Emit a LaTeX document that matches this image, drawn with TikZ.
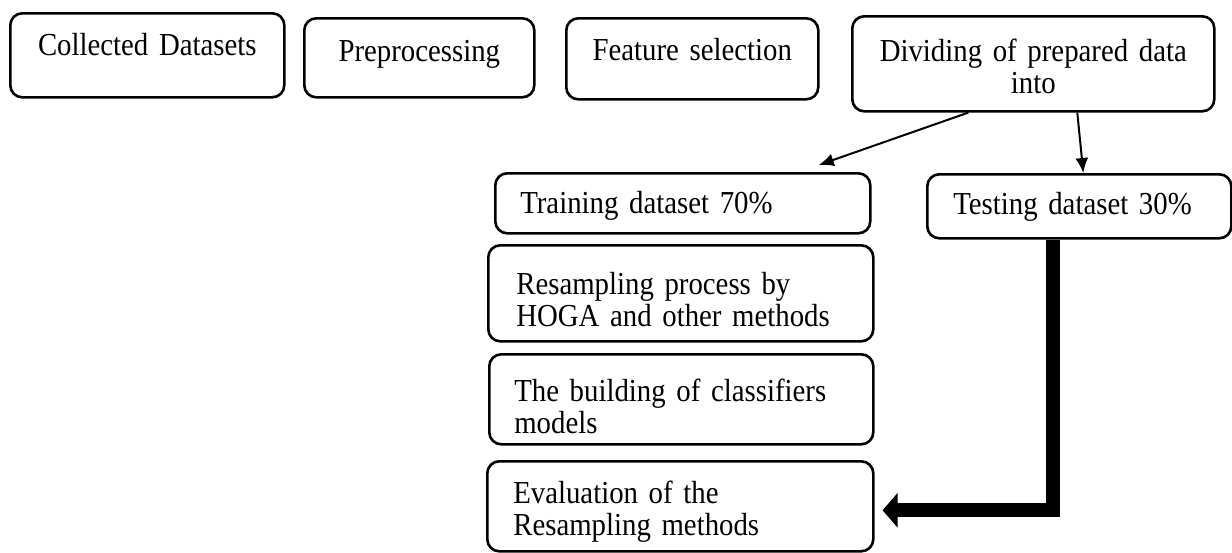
\documentclass[tikz,border=0pt]{standalone}
\usepackage{fontspec}
\setmainfont{Liberation Serif}[FakeStretch=0.9]
\usetikzlibrary{arrows.meta}

\tikzset{
	stage/.style={draw, rounded corners=6pt, line width=1.3pt, anchor=north west, inner ysep=0pt,
		font=\fontsize{16pt}{16pt}\selectfont},
	midtext/.style={align=center, inner xsep=0pt},
	lefttext/.style={align=left, inner xsep=#1},
	link/.style={-{Latex[length=7.5pt,width=6.5pt]}, line width=1pt},
	bigarrow/.style={-{Triangle[length=7.5pt,width=17pt]}, line width=7pt, line join=miter},
}

\begin{document}
\begin{tikzpicture}[x=0.5pt, y=-0.5pt]
		\useasboundingbox (0,0) rectangle (1232,552);
		
		% top row
		\node[stage, midtext, text width=137pt, text height=21pt, text depth=21pt] (collect) at (9,12) {Collected Datasets};
		\node[stage, midtext, text width=115pt, text height=21.5pt, text depth=18pt] (prep) at (303,17) {Preprocessing};
		\node[stage, midtext, text width=126pt, text height=21pt, text depth=19.5pt] (feat) at (565,17) {Feature selection};
		\node[stage, midtext, text width=181pt, text height=22.5pt, text depth=25pt] (divide) at (851,15) {Dividing of prepared data\\into};
		
		% split
		\node[stage, lefttext=12.5pt, text width=162.5pt, text height=20pt, text depth=10pt] (train) at (494,172) {Training dataset 70\%};
		\node[stage, lefttext=13pt, text width=126pt, text height=20pt, text depth=12pt] (test) at (926,173) {Testing dataset 30\%};
		
		% training branch
		\node[stage, lefttext=14pt, text width=164.5pt, text height=24.5pt, text depth=23.5pt] (resample) at (487,244) {Resampling process by\\HOGA and other methods};
		\node[stage, lefttext=12.5pt, text width=167pt, text height=23.5pt, text depth=21.5pt] (build) at (488,353) {The building of classifiers\\models};
		\node[stage, lefttext=13pt, text width=167pt, text height=21pt, text depth=24pt] (eval) at (486,460) {Evaluation of the\\Resampling methods};
		
		\draw[link] ([xshift=-32.5pt]divide.south) -- ([xshift=68pt,yshift=3.5pt]train.north);
		\draw[link] ([xshift=22pt]divide.south) -- ([xshift=2pt]test.north);
		\draw[bigarrow] ([xshift=-13pt]test.south) |- ([xshift=4pt,yshift=-2pt]eval.east);
	\end{tikzpicture}
\end{document}
